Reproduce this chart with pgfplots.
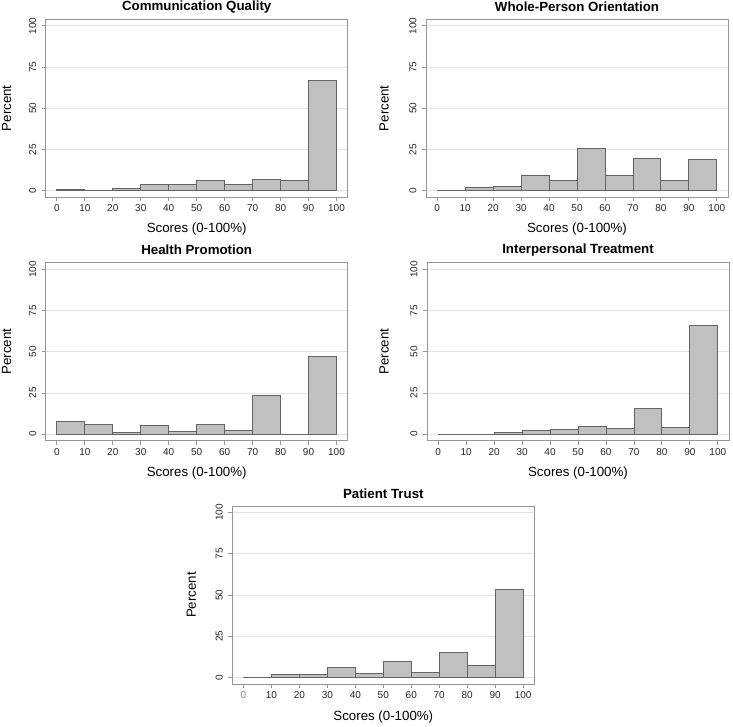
\documentclass[border=0pt]{standalone}
\usepackage{fontspec}
\setmainfont{Liberation Sans}
\usepackage{pgfplots}
\pgfplotsset{compat=1.18}
\definecolor{barfill}{RGB}{192,192,192}
\definecolor{baredge}{RGB}{100,100,100}
\definecolor{framec}{RGB}{150,150,150}
\definecolor{gridc}{RGB}{226,226,226}
\pgfplotsset{
 hist/.style={
  scale only axis, width=302pt, height=178pt,
  xmin=-4, xmax=104, ymin=-4, ymax=104,
  xtick={0,10,...,100}, ytick={0,25,50,75,100},
  tick align=outside, xtick pos=left, ytick pos=left,
  major tick length=4pt,
  every tick/.style={framec, line width=0.8pt},
  axis line style={framec, line width=0.8pt},
  ymajorgrids, grid style={gridc, line width=0.8pt},
  tick label style={font=\fontsize{10}{12}\selectfont, text=black!85},
  yticklabel style={rotate=90, anchor=south},
  yticklabel shift=2pt,
  /pgf/number format/assume math mode=true,
 },
 bars/.style={ybar interval, fill=barfill, draw=baredge, line width=0.8pt},
}
\tikzset{
 ttl/.style={font=\bfseries\fontsize{13.3}{16}\selectfont},
 lbl/.style={font=\fontsize{13.3}{16}\selectfont},
}
\begin{document}
\begin{tikzpicture}
\path[use as bounding box] (0pt,0pt) rectangle (733pt,-726pt);

% Panel 1
\begin{axis}[hist, name=p1, at={(45.7pt,-19.3pt)}, anchor=north west]
\addplot[bars] coordinates {(0,0.8) (10,0.3) (20,1.2) (30,3.6) (40,3.6) (50,6.3) (60,4.0) (70,6.9) (80,6.3) (90,67.0) (100,67.0)};
\end{axis}
\node[ttl] at ([yshift=12.6pt]p1.north) {Communication Quality};
\node[lbl] at ([yshift=-32pt]p1.south) {Scores (0-100\%)};
\node[lbl, rotate=90] at ([xshift=-39pt]p1.west) {Percent};

% Panel 2
\begin{axis}[hist, name=p2, at={(426pt,-19.3pt)}, anchor=north west]
\addplot[bars] coordinates {(0,0) (10,2.0) (20,2.8) (30,9.5) (40,6.1) (50,25.5) (60,9.5) (70,19.8) (80,6.1) (90,19.0) (100,19.0)};
\end{axis}
\node[ttl] at ([yshift=12.6pt]p2.north) {Whole-Person Orientation};
\node[lbl] at ([yshift=-32pt]p2.south) {Scores (0-100\%)};
\node[lbl, rotate=90] at ([xshift=-42pt]p2.west) {Percent};

% Panel 3
\begin{axis}[hist, name=p3, at={(45.7pt,-262.7pt)}, anchor=north west]
\addplot[bars] coordinates {(0,7.7) (10,6.1) (20,1.0) (30,5.3) (40,1.8) (50,6.1) (60,2.0) (70,23.6) (80,0) (90,47.3) (100,47.3)};
\end{axis}
\node[ttl] at ([yshift=12.6pt]p3.north) {Health Promotion};
\node[lbl] at ([yshift=-32pt]p3.south) {Scores (0-100\%)};
\node[lbl, rotate=90] at ([xshift=-39pt]p3.west) {Percent};

% Panel 4
\begin{axis}[hist, name=p4, at={(427pt,-262.7pt)}, anchor=north west]
\addplot[bars] coordinates {(0,0) (10,0) (20,0.8) (30,2.2) (40,2.6) (50,4.7) (60,3.7) (70,15.4) (80,4.1) (90,65.9) (100,65.9)};
\end{axis}
\node[ttl] at ([yshift=12.6pt]p4.north) {Interpersonal Treatment};
\node[lbl] at ([yshift=-32pt]p4.south) {Scores (0-100\%)};
\node[lbl, rotate=90] at ([xshift=-43pt]p4.west) {Percent};

% Panel 5
\begin{axis}[hist, name=p5, at={(232.3pt,-506pt)}, anchor=north west,
  xticklabels={\textcolor{black!45}{0},10,20,30,40,50,60,70,80,90,100}]
\addplot[bars] coordinates {(0,0) (10,1.6) (20,1.6) (30,6.3) (40,2.6) (50,9.5) (60,3.0) (70,15.2) (80,7.5) (90,53.3) (100,53.3)};
\end{axis}
\node[ttl] at ([yshift=12.6pt]p5.north) {Patient Trust};
\node[lbl] at ([yshift=-33pt]p5.south) {Scores (0-100\%)};
\node[lbl, rotate=90] at ([xshift=-41pt]p5.west) {Percent};
\end{tikzpicture}
\end{document}
